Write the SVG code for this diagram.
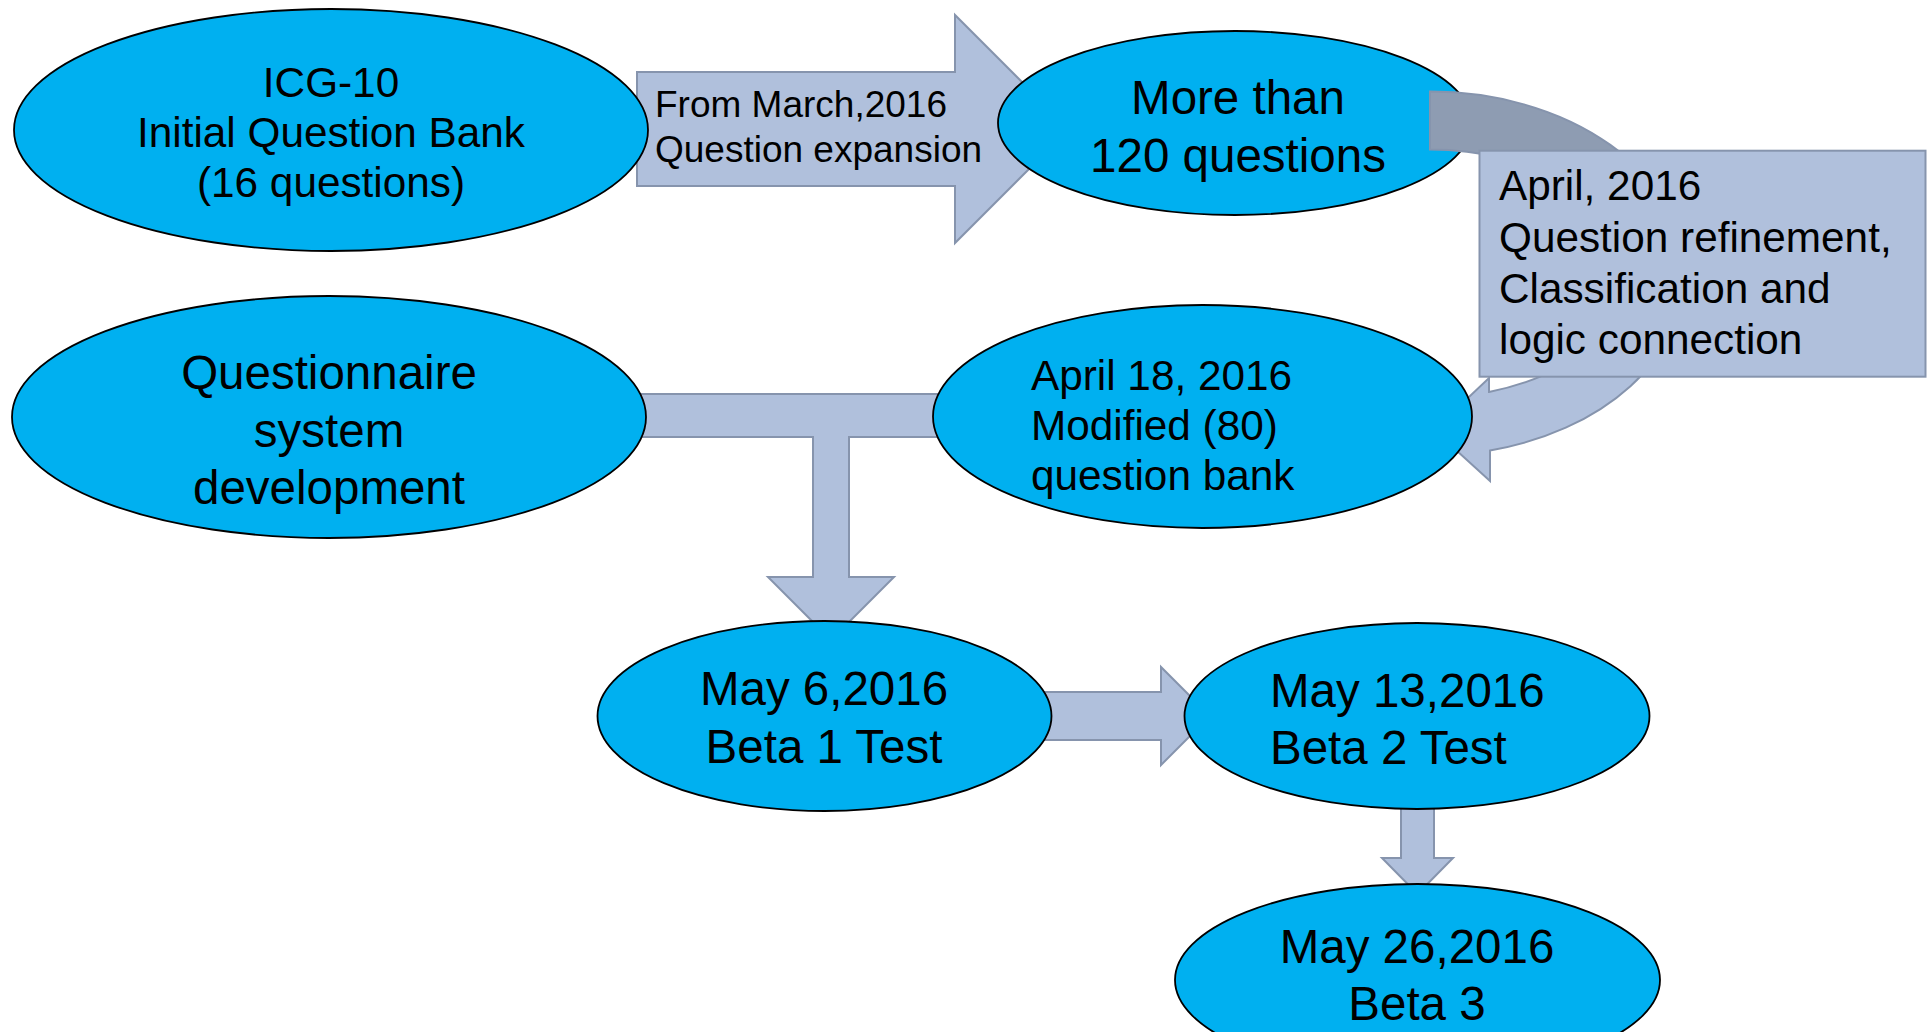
<svg xmlns="http://www.w3.org/2000/svg" width="1927" height="1032" viewBox="0 0 1927 1032">
  <style>
    .bg { fill: #ffffff; }
    .node ellipse { fill: #00B0F0; stroke: #000000; stroke-width: 1.8; }
    .arrow { fill: #B0C0DC; stroke: #8694AD; stroke-width: 2; stroke-linejoin: miter; }
    .arrow-dark { fill: #8E9CB2; stroke: #8694AD; stroke-width: 2; }
    .note rect { fill: #B0C0DC; stroke: #8694AD; stroke-width: 2; }
    text { font-family: "Liberation Sans", Arial, Helvetica, sans-serif; fill: #000000; }
    .c { text-anchor: middle; }
    .f37 { font-size: 37px; }
    .f42 { font-size: 42.3px; }
    .f47 { font-size: 47.5px; }
  </style>
  <rect class="bg" x="0" y="0" width="1927" height="1032"/>

  <g id="connectors">
    <polygon id="arrow-expansion" class="arrow" points="637,72 955,72 955,15 1069,129 955,243 955,186 637,186"/>
    <polygon id="arrow-tee" class="arrow" points="640,394 940,394 940,437 849,437 849,577 894,577 831,640 768,577 813,577 813,437 640,437"/>
    <polygon id="arrow-beta1-beta2" class="arrow" points="1045,692 1161,692 1161,667 1210,716 1161,765 1161,740 1045,740"/>
    <polygon id="arrow-beta2-beta3" class="arrow" points="1401,800 1434,800 1434,858 1453,858 1417.5,894 1382,858 1401,858"/>
    <text class="f37" x="655" y="117">From March,2016</text>
    <text class="f37" x="655" y="162">Question expansion</text>
  </g>

  <g id="node-icg10" class="node">
    <ellipse cx="331" cy="130" rx="317" ry="121"/>
    <text class="c f42" x="331" y="97">ICG-10</text>
    <text class="c f42" x="331" y="147">Initial Question Bank</text>
    <text class="c f42" x="331" y="197">(16 questions)</text>
  </g>

  <g id="node-120" class="node">
    <ellipse cx="1235" cy="123" rx="237" ry="92"/>
    <text class="c f47" x="1238" y="114">More than</text>
    <text class="c f47" x="1238" y="172">120 questions</text>
  </g>

  <g id="node-questionnaire" class="node">
    <ellipse cx="329" cy="417" rx="317" ry="121"/>
    <text class="c f47" x="329" y="389">Questionnaire</text>
    <text class="c f47" x="329" y="447">system</text>
    <text class="c f47" x="329" y="504">development</text>
  </g>

  <g id="connector-refinement-loop">
    <path class="arrow-dark" d="M1430,91.6 A255,182 0 0 1 1685,273.6 L1627,273.6 A197,124 0 0 0 1430,149.6 Z"/>
    <path class="arrow" d="M1685,273.6 A255,182 0 0 1 1490,450.5 L1490,481 L1434,430 L1489,378 L1489,391.9 A197,124 0 0 0 1627,273.6 Z"/>
  </g>

  <g id="node-april18" class="node">
    <ellipse cx="1202.5" cy="416.5" rx="269.5" ry="111.5"/>
    <text class="f42" x="1031" y="390">April 18, 2016</text>
    <text class="f42" x="1031" y="439.5">Modified (80)</text>
    <text class="f42" x="1031" y="489.5">question bank</text>
  </g>

  <g id="note-april" class="note">
    <rect x="1479.5" y="150.7" width="446" height="226"/>
    <text class="f42" x="1499" y="200">April, 2016</text>
    <text class="f42" x="1499" y="251.5">Question refinement,</text>
    <text class="f42" x="1499" y="302.5">Classification and</text>
    <text class="f42" x="1499" y="353.5">logic connection</text>
  </g>

  <g id="node-beta1" class="node">
    <ellipse cx="824.5" cy="716" rx="227" ry="95"/>
    <text class="c f47" x="824" y="705">May 6,2016</text>
    <text class="c f47" x="824" y="763">Beta 1 Test</text>
  </g>

  <g id="node-beta2" class="node">
    <ellipse cx="1417" cy="716" rx="232.5" ry="93"/>
    <text class="f47" x="1270" y="707">May 13,2016</text>
    <text class="f47" x="1270" y="763.5">Beta 2 Test</text>
  </g>

  <g id="node-beta3" class="node">
    <ellipse cx="1417.5" cy="980" rx="242.5" ry="96"/>
    <text class="c f47" x="1417" y="963">May 26,2016</text>
    <text class="c f47" x="1417" y="1019.5">Beta 3</text>
  </g>
</svg>
